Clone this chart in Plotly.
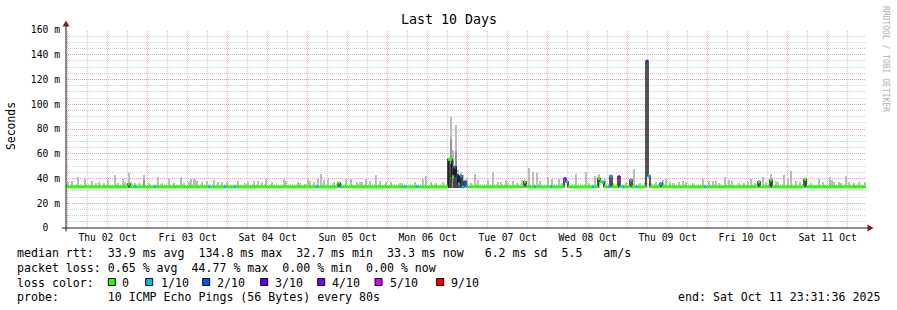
import datetime as dt
import plotly.graph_objects as go

# ---------------- data ----------------
START = dt.datetime(2025, 10, 1, 23, 31, 36)
END = START + dt.timedelta(days=10)
FIRST_MIDNIGHT = dt.datetime(2025, 10, 2, 0, 0, 0)
STEP_H = 0.6            # one rrd sample, hours
N_SAMPLES = 400
MEDIAN_BASE_MS = 33.3   # the flat median rtt level

# median excursions: hour since start, median (ms), loss (pings lost of 10)
event_h = [18.6, 81.6,
           114.6, 115.2, 115.8, 116.4, 117.0, 117.6, 118.2, 118.8, 119.4, 120.0,
           137.4, 149.4, 150.0, 159.6, 160.2, 160.8, 163.2, 165.6, 169.2,
           174.0, 174.6, 178.2, 207.6, 211.2, 221.4]
event_ms = [35.5, 36.3,
            55.5, 55.5, 41.5, 49.0, 42.0, 35.5, 42.3, 33.1, 37.4, 33.4,
            37.4, 40.1, 37.4, 40.0, 37.5, 37.0, 42.0, 41.5, 38.8,
            134.8, 42.0, 36.0, 37.4, 38.8, 39.3]
event_loss = [0, 0,
              0, 0, 0, 2, 3, 1, 1, 1, 2, 1,
              0, 5, 1, 0, 0, 1, 1, 4, 1,
              3, 1, 1, 0, 0, 0]

# samples at the base level that lost one ping
loss_dot_h = [20.4, 26.4, 42.6, 47.4, 50.4, 75.0, 82.2, 101.4, 105.0,
              140.4, 145.2, 157.8, 162.6, 166.8, 171.0, 191.4]

# smoke (max ping) bars: hour since start, top (ms)
smoke_h = [0.5, 1.8, 3.5, 5.6, 7.8, 9.1, 9.8, 11.3, 12.5, 14.6, 15.6, 17.0, 17.8, 18.9,
           19.5, 20.8, 22.0, 23.3, 24.8, 27.5, 28.8, 31.0, 32.3, 34.4, 35.4, 36.8, 37.6,
           38.6, 39.2, 40.7, 42.2, 44.5, 45.5, 46.7, 48.4, 51.5, 53.7, 54.7, 56.5, 57.5,
           58.7, 59.9, 61.7, 65.4, 65.9, 69.7, 70.2, 71.7, 72.5, 73.2, 74.5, 75.5, 76.5,
           77.5, 78.5, 80.3, 82.4, 84.1, 85.6, 87.4, 88.1, 88.9, 90.1, 91.3, 93.1, 94.1,
           96.1, 97.6, 100.1, 100.8, 104.8, 107.1, 107.9, 109.6, 111.1, 113.1,
           114.5, 115.4, 116.1, 117.0, 117.6, 118.4, 119.1, 120.2,
           121.5, 122.7, 123.7, 126.7, 128.2, 129.7, 130.4, 131.9, 132.7, 134.2, 135.4,
           136.7, 139.0, 140.0, 141.2, 142.2, 144.7, 145.9, 148.0, 148.9,
           152.9, 155.9, 156.9, 158.6, 159.9, 161.6, 164.1, 165.6, 168.1, 170.3, 172.1,
           173.6, 175.6, 177.1, 179.1, 180.1, 181.1, 182.1, 183.9, 185.1, 186.1, 188.1,
           191.1, 193.0, 194.0, 195.0, 196.0, 197.7, 199.0, 199.8, 202.0, 203.5, 204.5,
           205.5, 206.8, 209.2, 210.0, 211.5, 213.0, 213.5, 215.5, 216.5, 217.5, 219.0,
           220.2, 222.0, 223.5, 225.8, 227.0, 229.2, 229.8, 230.5, 231.8, 232.5, 234.0,
           235.0, 236.5, 238.0, 239.6]
smoke_ms = [37.4, 38.2, 41.0, 39.6, 38.0, 36.0, 37.0, 36.0, 38.7, 42.8, 36.0, 39.6, 37.4, 44.7,
            37.4, 36.0, 36.5, 42.8, 36.0, 41.5, 36.0, 39.9, 36.0, 41.5, 36.5, 37.4, 39.3,
            39.3, 38.2, 37.0, 38.0, 38.7, 37.0, 37.0, 37.4, 38.0, 36.0, 37.0, 38.2, 38.2,
            37.0, 39.3, 37.0, 39.3, 38.0, 37.0, 36.0, 35.5, 39.3, 38.0, 37.0, 39.9, 43.6,
            38.7, 39.9, 37.0, 36.5, 39.6, 39.6, 37.0, 37.4, 37.4, 39.6, 38.0, 42.8, 38.0,
            37.0, 37.0, 36.5, 36.0, 37.0, 39.3, 42.0, 37.0, 36.0, 37.0,
            55.0, 90.0, 63.0, 83.0, 47.0, 45.5, 43.0, 40.4,
            36.0, 44.0, 38.4, 39.0, 45.0, 37.3, 36.8, 38.4, 36.5, 38.0, 36.5,
            38.4, 48.7, 45.0, 44.5, 38.0, 41.5, 40.0, 40.0, 36.5,
            43.6, 45.5, 36.0, 42.3, 43.6, 39.9, 36.5, 36.5, 37.4, 47.4, 36.0,
            37.4, 36.5, 37.4, 38.7, 39.3, 37.4, 36.5, 37.4, 38.2, 37.0, 36.0,
            39.3, 38.0, 38.0, 38.0, 36.0, 41.0, 38.7, 38.0, 36.0, 36.0, 37.0,
            39.3, 36.0, 41.5, 37.4, 43.6, 38.0, 37.4, 42.8, 39.9, 46.0, 38.0,
            37.0, 38.0, 36.0, 39.9, 37.0, 41.0, 38.7, 37.4, 37.4, 36.5, 42.0,
            37.0, 36.0, 37.0, 37.0]

# denser smoke (middle pings) inside the Mon 06 burst and a few others
mid_h = [115.4, 116.1, 117.0, 23.3]
mid_ms = [72.0, 55.0, 62.0, 39.0]
dark_h = [115.0, 115.6, 116.4, 117.0, 117.6, 118.2]
dark_ms = [56.0, 52.0, 48.0, 50.0, 44.0, 42.0]
SMOKE_FLOOR_MS = 32.5

loss_levels = [0, 1, 2, 3, 4, 5, 9]
loss_labels = ["0", "1/10", "2/10", "3/10", "4/10", "5/10", "9/10"]
loss_colors = ["#26ff00", "#00b8ff", "#0059ff", "#5e00ff", "#7e00ff", "#dd00ff", "#ff0000"]

ytick_vals = [0, 20, 40, 60, 80, 100, 120, 140, 160]
ytick_text = ["0  ", "20 m", "40 m", "60 m", "80 m", "100 m", "120 m", "140 m", "160 m"]

title_text = "Last 10 Days"
ylabel_text = "Seconds"
watermark_text = "RRDTOOL / TOBI OETIKER"
stat_lines = [
    "median rtt:  33.9 ms avg  134.8 ms max  32.7 ms min  33.3 ms now   6.2 ms sd  5.5   am/s",
    "packet loss: 0.65 % avg  44.77 % max  0.00 % min  0.00 % now",
    "loss color:",
    "probe:       10 ICMP Echo Pings (56 Bytes) every 80s",
]
end_text = "end: Sat Oct 11 23:31:36 2025"

# ---------------- build series ----------------
def at(h):
    return START + dt.timedelta(hours=h)

median = [MEDIAN_BASE_MS] * N_SAMPLES
loss = [0] * N_SAMPLES
for h in loss_dot_h:
    loss[int(round(h / STEP_H))] = 1
for h, m, l in zip(event_h, event_ms, event_loss):
    i = int(round(h / STEP_H))
    median[i] = m
    loss[i] = l
times = [at(i * STEP_H) for i in range(N_SAMPLES + 1)]

MONO = "DejaVu Sans Mono"
fig = go.Figure()

BAR_W = 0.6 * 3600 * 1000
for hs, ms, col in [(smoke_h, smoke_ms, "#bcbcbc"), (mid_h, mid_ms, "#949494"), (dark_h, dark_ms, "#4a4a4a")]:
    fig.add_trace(go.Bar(x=[at(h) for h in hs], y=[m - SMOKE_FLOOR_MS for m in ms],
                         base=SMOKE_FLOOR_MS, width=BAR_W,
                         marker=dict(color=col, line=dict(width=0)), hoverinfo="skip"))

# thin dark median line (shows the vertical transitions)
fig.add_trace(go.Scatter(x=times, y=median + [median[-1]], mode="lines",
                         line=dict(shape="hv", color="#111111", width=1.4), hoverinfo="skip"))

# loss-coloured median segments
segs = {}
i = 0
while i < N_SAMPLES:
    j = i
    while j + 1 < N_SAMPLES and loss[j + 1] == loss[i] and median[j + 1] == median[i]:
        j += 1
    xs, ys = segs.setdefault(loss[i], ([], []))
    xs += [times[i], times[j + 1], None]
    ys += [median[i], median[i], None]
    i = j + 1
for lvl in loss_levels:
    if lvl in segs:
        xs, ys = segs[lvl]
        fig.add_trace(go.Scatter(x=xs, y=ys, mode="lines",
                                 line=dict(color=loss_colors[loss_levels.index(lvl)], width=3),
                                 hoverinfo="skip"))

# ---------------- layout ----------------
L, R, T, B = 66, 866, 30, 228
PW, PH = R - L, B - T

def px(x):
    return (x - L) / PW

def py(y):
    return (B - y) / PH

MAJOR = "#eaa2a2"
MINOR = "#d0d0d0"
DOTS = "1px,1px"
fig.update_layout(
    width=897, height=310,
    margin=dict(l=L, r=897 - R, t=T, b=310 - B),
    paper_bgcolor="white", plot_bgcolor="white",
    showlegend=False, barmode="overlay", bargap=0,
    font=dict(family=MONO, size=9.7, color="#000000"),
    xaxis=dict(type="date", range=[START, END], tick0="2025-10-02", dtick=86400000,
               tickformat="%a %d %b", ticklabelmode="period", showgrid=False,
               ticks="", zeroline=False, showline=False, ticklabelstandoff=2,
               tickfont=dict(family=MONO, size=9.7)),
    yaxis=dict(range=[0, 160], tickvals=ytick_vals,
               ticktext=[t.replace(" ", "\u00a0") for t in ytick_text],
               showgrid=True, gridcolor=MAJOR, griddash=DOTS, gridwidth=1,
               minor=dict(dtick=5, showgrid=True, gridcolor=MINOR, griddash=DOTS, gridwidth=1),
               ticks="", zeroline=False, showline=False, ticklabelstandoff=5,
               tickfont=dict(family=MONO, size=9.7)),
)

AXIS = "#1f1f1f"
ARROW = "#801f1f"
shapes = []
# vertical grid: every 6 hours, major at midnight
k = 0
while FIRST_MIDNIGHT + dt.timedelta(hours=6 * k) < END:
    tx = FIRST_MIDNIGHT + dt.timedelta(hours=6 * k)
    shapes.append(dict(type="line", xref="x", yref="paper", x0=tx, x1=tx, y0=0, y1=1,
                       layer="below",
                       line=dict(color=MAJOR if k % 4 == 0 else "#c4c4c4", width=1, dash=DOTS)))
    k += 1
shapes += [
    dict(type="line", xref="paper", yref="paper", x0=px(62), x1=px(868), y0=0, y1=0,
         line=dict(color=AXIS, width=1)),
    dict(type="line", xref="paper", yref="paper", x0=0, x1=0, y0=py(231.5), y1=py(26),
         line=dict(color=AXIS, width=1)),
    dict(type="path", xref="paper", yref="paper",
         path=f"M {px(867.5)},{py(224.5)} L {px(873.5)},{py(228)} L {px(867.5)},{py(231.5)} Z",
         fillcolor=ARROW, line=dict(color=ARROW, width=0)),
    dict(type="path", xref="paper", yref="paper",
         path=f"M {px(62.5)},{py(26.5)} L {px(66)},{py(20.5)} L {px(69.5)},{py(26.5)} Z",
         fillcolor=ARROW, line=dict(color=ARROW, width=0)),
]
box_x0 = [108.3, 145.7, 202.7, 260.7, 317.7, 375.0, 436.7]
label_x = [121.7, 160.0, 216.7, 274.0, 331.7, 389.3, 450.0]
for bx, col in zip(box_x0, loss_colors):
    shapes.append(dict(type="rect", xref="paper", yref="paper",
                       x0=px(bx), x1=px(bx + 7), y0=py(278.5), y1=py(285.5),
                       fillcolor=col, line=dict(color="#000000", width=1)))
fig.update_layout(shapes=shapes)

LEG = 11.6
ann = []
ann.append(dict(text=title_text, xref="paper", yref="paper", x=px(448.5), y=py(19.5),
                xanchor="center", yanchor="middle", showarrow=False,
                font=dict(family=MONO, size=13.3, color="#000")))
ann.append(dict(text=ylabel_text, xref="paper", yref="paper", x=px(11), y=py(126),
                xanchor="center", yanchor="middle", textangle=-90, showarrow=False,
                font=dict(family=MONO, size=11.4, color="#000")))
ann.append(dict(text=watermark_text.replace(" ", "\u00a0"), xref="paper", yref="paper",
                x=px(886), y=py(59), xanchor="center", yanchor="middle", textangle=90,
                showarrow=False, font=dict(family=MONO, size=8, color="#b0b0b0")))
for line, yc in zip(stat_lines, [253.3, 268.3, 282.7, 296.7]):
    ann.append(dict(text=line.replace(" ", "\u00a0"), xref="paper", yref="paper",
                    x=px(14.5), y=py(yc), xanchor="left", yanchor="middle", showarrow=False,
                    font=dict(family=MONO, size=LEG, color="#000")))
for lx, lab in zip(label_x, loss_labels):
    ann.append(dict(text=lab, xref="paper", yref="paper", x=px(lx - 1.5), y=py(282.7),
                    xanchor="left", yanchor="middle", showarrow=False,
                    font=dict(family=MONO, size=LEG, color="#000")))
ann.append(dict(text=end_text.replace(" ", "\u00a0"), xref="paper", yref="paper",
                x=px(882), y=py(296.7), xanchor="right", yanchor="middle", showarrow=False,
                font=dict(family=MONO, size=LEG, color="#000")))
fig.update_layout(annotations=ann)

fig.write_html("out.html")
